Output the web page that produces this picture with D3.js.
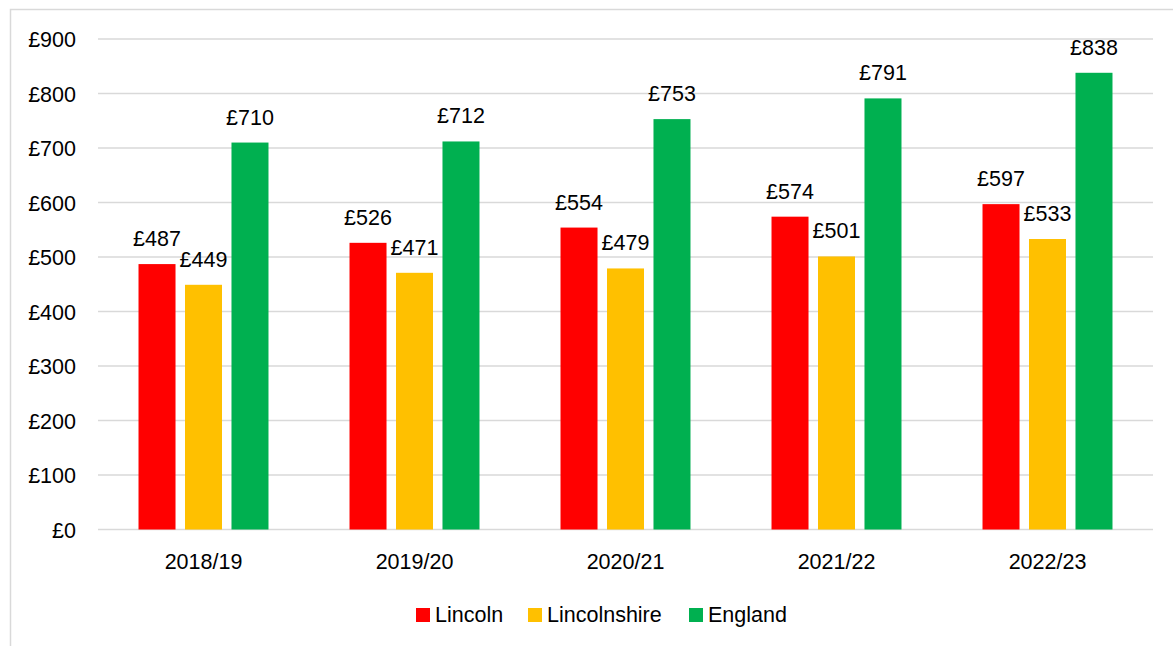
<!DOCTYPE html>
<html>
<head>
<meta charset="utf-8">
<script src="https://cdnjs.cloudflare.com/ajax/libs/d3/7.8.5/d3.min.js"></script>
<style>
  body { margin: 0; background: white; }
  text { font-family: "Liberation Sans", Arial, sans-serif; fill: #000; }
</style>
</head>
<body>
<script>
'use strict';
// chart values
const years = ["2018/19", "2019/20", "2020/21", "2021/22", "2022/23"];
const seriesNames = ["Lincoln", "Lincolnshire", "England"];
const lincoln = [487, 526, 554, 574, 597];
const lincolnshire = [449, 471, 479, 501, 533];
const england = [710, 712, 753, 791, 838];
const yTicks = [0, 100, 200, 300, 400, 500, 600, 700, 800, 900];
const colours = ["#ff0000", "#ffc000", "#00b050"];

(function() {
    const width = 1173, height = 646;
    const fontSize = '21.5px';
    const svg = d3.select('body').append('svg')
        .attr('width', width)
        .attr('height', height);

    // outer chart border
    svg.append('rect')
        .attr('x', 10.5).attr('y', 9.5)
        .attr('width', 1300).attr('height', 800)
        .attr('fill', 'white')
        .attr('stroke', '#d9d9d9')
        .attr('stroke-width', 1.5);

    const plot = {left: 98, right: 1153, top: 39, bottom: 529.5};

    const yScale = d3.scaleLinear()
        .domain([0, 900])
        .range([plot.bottom, plot.top]);

    const x0 = d3.scaleBand()
        .domain(years)
        .range([plot.left, plot.right])
        .paddingInner(0.384)
        .paddingOuter(0.192);

    const x1 = d3.scaleBand()
        .domain(seriesNames)
        .range([0, x0.bandwidth()])
        .paddingInner(0.204);

    // gridlines
    svg.append('g')
        .selectAll('line')
        .data(yTicks)
        .enter()
        .append('line')
            .attr('x1', plot.left)
            .attr('x2', plot.right)
            .attr('y1', d => yScale(d))
            .attr('y2', d => yScale(d))
            .attr('stroke', '#d9d9d9')
            .attr('stroke-width', 1.5);

    // y axis labels
    const yAxis = d3.axisLeft(yScale)
        .tickValues(yTicks)
        .tickSize(0)
        .tickPadding(0)
        .tickFormat(d => '£' + d);
    const yG = svg.append('g')
        .attr('transform', 'translate(76,0)')
        .call(yAxis);
    yG.select('.domain').remove();
    yG.selectAll('text')
        .style('font-size', fontSize)
        .attr('dy', '0.35em')
        .style('font-family', '"Liberation Sans", Arial, sans-serif');

    // x axis labels
    const xAxis = d3.axisBottom(x0).tickSize(0).tickPadding(0);
    const xG = svg.append('g')
        .attr('transform', 'translate(0,' + 569 + ')')
        .call(xAxis);
    xG.select('.domain').remove();
    xG.selectAll('text')
        .attr('dy', 0)
        .style('font-size', fontSize)
        .style('font-family', '"Liberation Sans", Arial, sans-serif');

    const tableData = years.map((yr, i) => ({
        year: yr,
        values: [lincoln[i], lincolnshire[i], england[i]]
    }));

    const groups = svg.selectAll('.grp')
        .data(tableData)
        .enter()
        .append('g')
            .attr('class', 'grp')
            .attr('transform', d => 'translate(' + x0(d.year) + ',0)');

    groups.selectAll('rect')
        .data(d => d.values.map((v, j) => ({name: seriesNames[j], value: v, idx: j})))
        .enter()
        .append('rect')
            .attr('x', d => x1(d.name))
            .attr('y', d => yScale(d.value))
            .attr('width', x1.bandwidth())
            .attr('height', d => plot.bottom - yScale(d.value))
            .attr('fill', d => colours[d.idx]);

    groups.selectAll('.lbl')
        .data(d => d.values.map((v, j) => ({name: seriesNames[j], value: v})))
        .enter()
        .append('text')
            .attr('class', 'lbl')
            .attr('x', d => x1(d.name) + x1.bandwidth() / 2)
            .attr('y', d => yScale(d.value) - 18)
            .attr('text-anchor', 'middle')
            .style('font-size', fontSize)
            .text(d => '£' + d.value);

    // legend
    const legendX = [416, 528, 689];
    const legend = svg.selectAll('.leg')
        .data(seriesNames)
        .enter()
        .append('g')
            .attr('class', 'leg')
            .attr('transform', (d, i) => 'translate(' + legendX[i] + ',608)');
    legend.append('rect')
        .attr('width', 14).attr('height', 14)
        .attr('fill', (d, i) => colours[i]);
    legend.append('text')
        .attr('x', 19)
        .attr('y', 14)
        .style('font-size', fontSize)
        .text(d => d);
})();
</script>
</body>
</html>
